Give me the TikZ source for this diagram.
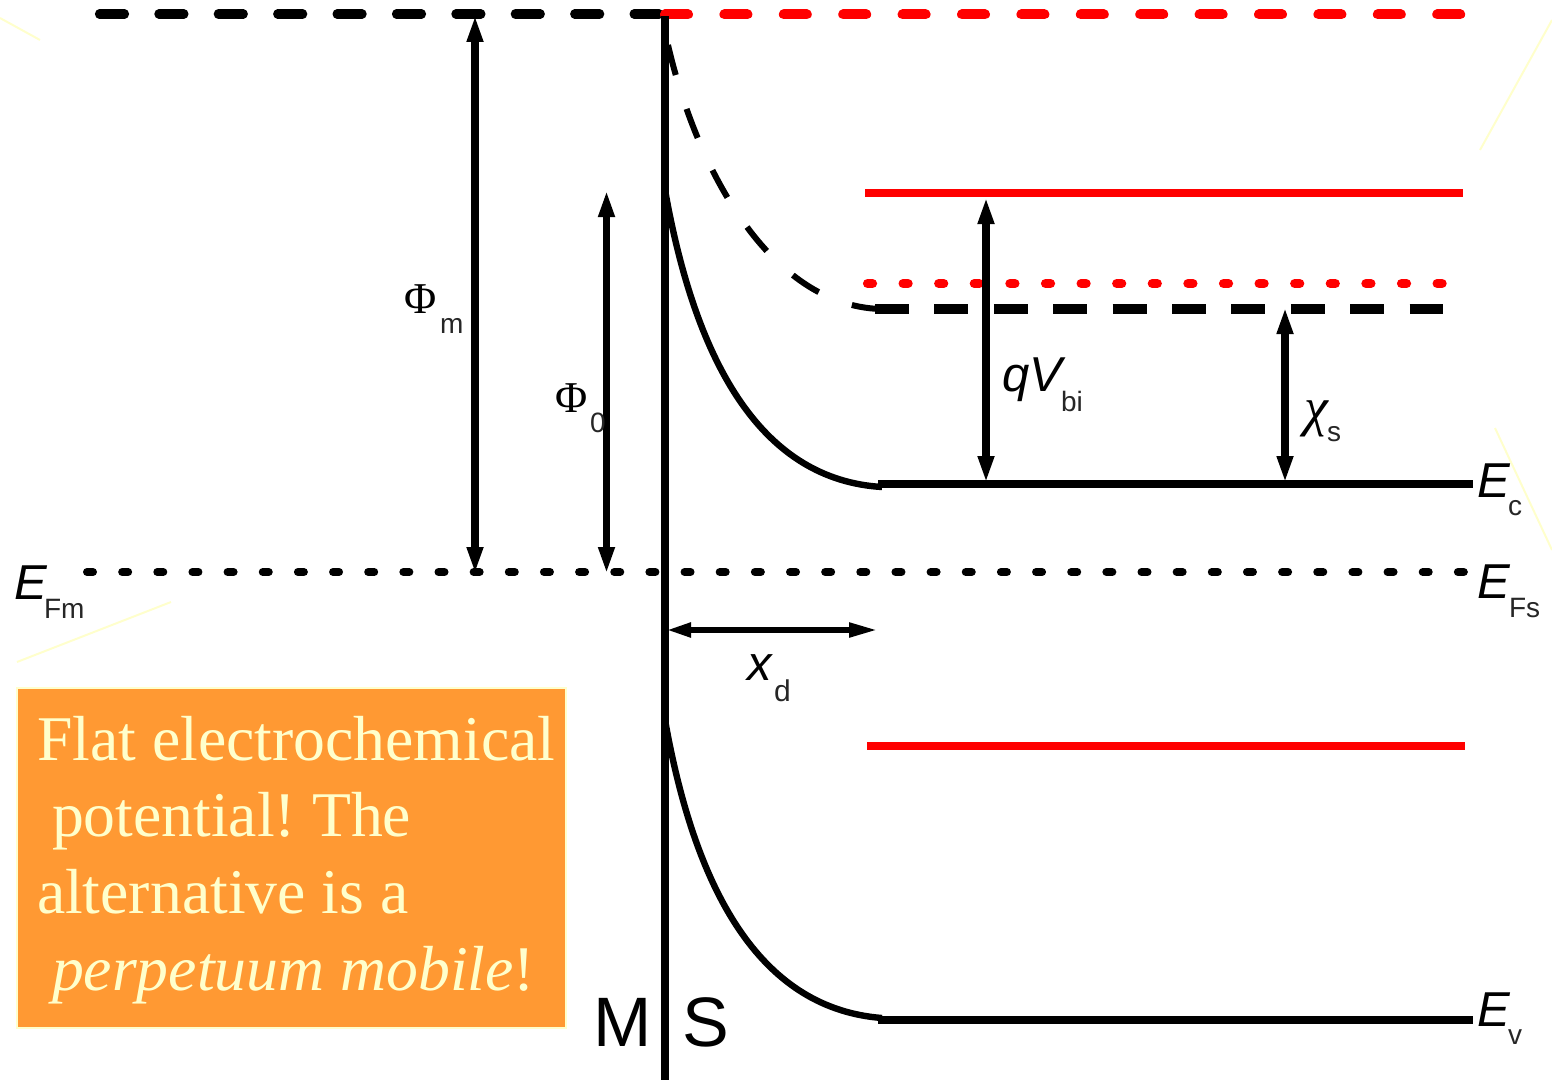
\documentclass[tikz,border=0pt]{standalone}
\usepackage{fontspec}
\setmainfont{Liberation Serif}
\newfontfamily\lsans{Liberation Sans}
\usetikzlibrary{arrows.meta}
\definecolor{paleY}{HTML}{FFFFCC}
\definecolor{boxO}{HTML}{FF9933}
\definecolor{redL}{HTML}{FF0000}
\tikzset{
  txt/.style={inner sep=0pt,outer sep=0pt,anchor=base west},
  evar/.style={txt,font=\lsans\itshape\fontsize{24.5}{24.5}\selectfont},
  esub/.style={txt,font=\lsans\fontsize{14}{14}\selectfont,text=black!85},
  greek/.style={txt,font=\fontsize{22}{22}\selectfont},
  boxline/.style={txt,font=\fontsize{31.85}{32}\selectfont\frenchspacing,text=paleY},
  msl/.style={txt,font=\lsans\fontsize{35}{35}\selectfont},
  dashK/.style={line width=4.6pt,line cap=round,dash pattern=on 12.5pt off 17.2pt},
  dashKb/.style={line width=4.6pt,dash pattern=on 17pt off 12.7pt},
  dashR/.style={line width=5pt,line cap=round,redL,dash pattern=on 11.5pt off 18.2pt},
  dotR/.style={line width=4.6pt,line cap=round,redL,dash pattern=on 2.5pt off 15.3pt},
  dotK/.style={line width=4pt,line cap=round,dash pattern=on 3pt off 14.575pt},
  levelK/.style={line width=4.2pt},
  levelR/.style={line width=4.2pt,redL},
  band/.style={line width=3.2pt},
  dbl/.style={line width=3.6pt,{Triangle[length=13.5pt,width=7.5pt]}-{Triangle[length=13.5pt,width=7.5pt]}},
  dblx/.style={line width=2.6pt,{Triangle[length=12pt,width=7pt]}-{Triangle[length=14pt,width=7pt]}},
  faint/.style={paleY,line width=1pt},
}
\begin{document}
\begin{tikzpicture}[x=0.5pt,y=-0.5pt]
\useasboundingbox (0,0) rectangle (1552,1081);
% faint lines
\coordinate (f1a) at (0,18);\coordinate (f1b) at (40,40);
\coordinate (f2a) at (1552,20);\coordinate (f2b) at (1480,150);
\coordinate (f3a) at (1495,428);\coordinate (f3b) at (1552,550);
\coordinate (f4a) at (17,662);\coordinate (f4b) at (171,602);
\draw[faint] (f1a)--(f1b);
\draw[faint] (f2a)--(f2b);
\draw[faint] (f3a)--(f3b);
\draw[faint] (f4a)--(f4b);
% level end points
\coordinate (vacL) at (99.5,14);\coordinate (vacM) at (662,14);
\coordinate (vacRa) at (665,14.5);\coordinate (vacRb) at (1463,14.5);
\coordinate (ecRa) at (865,193);\coordinate (ecRb) at (1463,193);
\coordinate (dotRa) at (867.5,283.5);\coordinate (dotRb) at (1447,283.5);
\coordinate (kdA) at (875,309);\coordinate (kdB) at (1443,309);
\coordinate (ecA) at (878,484);\coordinate (ecB) at (1473,484);
\coordinate (efA) at (87,572);\coordinate (efB) at (1470,572);
\coordinate (evRa) at (867,746);\coordinate (evRb) at (1465,746);
\coordinate (evA) at (878,1020);\coordinate (evB) at (1473,1020);
\coordinate (msT) at (665,16);\coordinate (msB) at (665,1080);
\draw[dashK] (vacL)--(vacM);
\draw[dashR] (vacRa)--(vacRb);
\draw[levelR] (ecRa)--(ecRb);
\draw[dotR] (dotRa)--(dotRb);
\draw[dashKb] (kdA)--(kdB);
\draw[levelK] (ecA)--(ecB);
\draw[dotK] (efA)--(efB);
\draw[levelR,line width=3.6pt] (evRa)--(evRb);
\draw[levelK] (evA)--(evB);
% band curves
\coordinate (c0) at (668,45);\coordinate (c0e) at (880,309);
\draw[band,line width=3pt,dash pattern=on 15.5pt off 17.8pt] (c0) .. controls (697,170) and (770,305) .. (c0e);
\coordinate (c1) at (665,190);\coordinate (c1e) at (882,487);
\draw[band] (c1) .. controls (697,370) and (765,480) .. (c1e);
\coordinate (c2) at (665,720);\coordinate (c2e) at (882,1018);
\draw[band] (c2) .. controls (697,900) and (765,1009) .. (c2e);
\draw[line width=4pt] (msT)--(msB);
% arrows
\coordinate (pmT) at (475,15);\coordinate (pmB) at (475,574);
\coordinate (p0T) at (606.5,190);\coordinate (p0B) at (606.5,574);
\coordinate (qT) at (986,197);\coordinate (qB) at (986,483);
\coordinate (xT) at (1285,307);\coordinate (xB) at (1285,483);
\coordinate (xdL) at (667,630);\coordinate (xdR) at (877,630);
\draw[dbl] (pmT)--(pmB);
\draw[dbl] (p0T)--(p0B);
\draw[dbl] (qT)--(qB);
\draw[dbl] (xT)--(xB);
\draw[dblx] (xdL)--(xdR);
% labels
\node[evar] (lEc) at (1477,497) {E};
\node[esub] (lEcs) at (1508,515) {c};
\node[evar] (lEf) at (1477,598) {E};
\node[esub] (lEfs) at (1509,617) {Fs};
\node[evar] (lEm) at (14,599) {E};
\node[esub] (lEms) at (44,618) {Fm};
\node[evar] (lEv) at (1477,1026) {E};
\node[esub] (lEvs) at (1508,1044) {v};
\node[greek] (lPm) at (404,313) {Φ};
\node[esub] (lPms) at (440,333) {m};
\node[greek] (lP0) at (555,412) {Φ};
\node[esub] (lP0s) at (590,432) {0};
\node[evar] (lq) at (1002,391) {qV};
\node[esub] (lqs) at (1061,411) {bi};
\node[greek,font=\itshape\fontsize{27}{27}\selectfont] (lx) at (1304,425) {χ};
\node[esub] (lxs) at (1327,441) {s};
\node[evar] (lxd) at (747,680) {x};
\node[esub,font=\lsans\fontsize{15}{15}\selectfont] (lxds) at (774,701) {d};
\node[msl] (lM) at (593,1046) {M};
\node[msl] (lS) at (682,1046) {S};
% box
\node[draw=paleY,fill=boxO,line width=1pt,minimum width=274.5pt,minimum height=170pt,inner sep=0pt,outer sep=0pt,anchor=north west] (note) at (17,688) {};
\node[boxline] (t1) at (37,760) {Flat electrochemical};
\node[boxline] (t2) at (52,836) {potential! The};
\node[boxline] (t3) at (37,913) {alternative is a};
\node[boxline] (t4) at (52,990) {\itshape perpetuum mobile\upshape !};
\end{tikzpicture}
\end{document}
